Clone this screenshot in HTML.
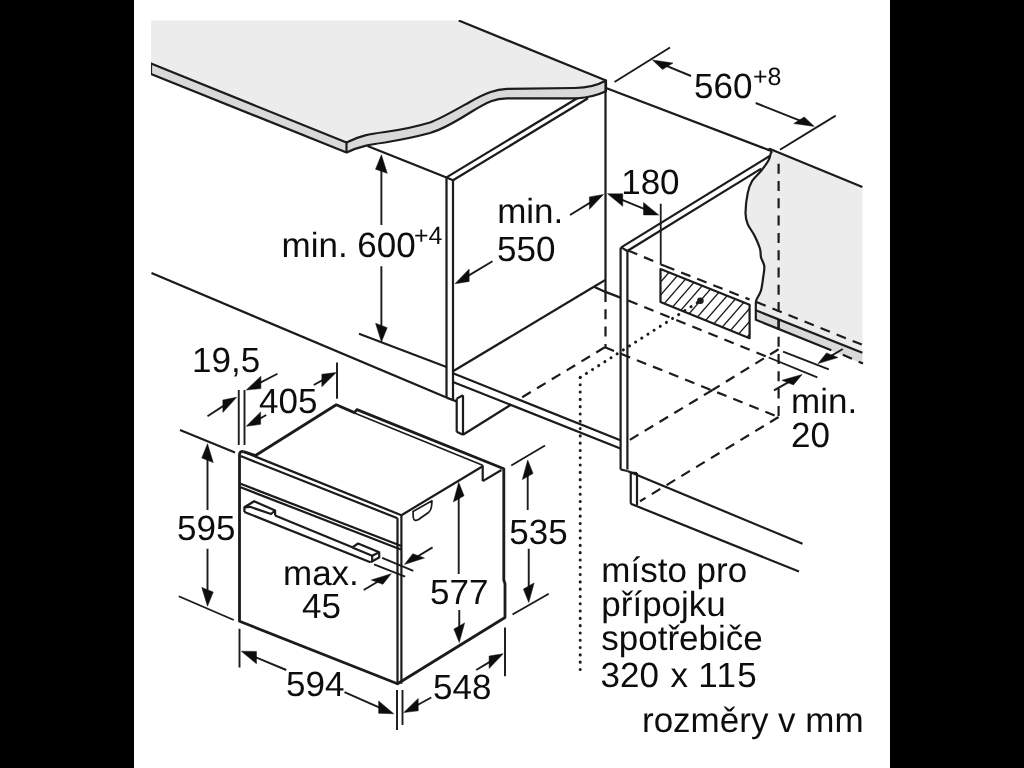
<!DOCTYPE html>
<html><head><meta charset="utf-8">
<style>
html,body{margin:0;padding:0;background:#000;width:1024px;height:768px;overflow:hidden}
svg{display:block}
text{font-family:"Liberation Sans",sans-serif;fill:#111;text-rendering:geometricPrecision}
</style></head><body>
<svg width="1024" height="768" viewBox="0 0 1024 768">
<rect x="0" y="0" width="1024" height="768" fill="#000"/>
<rect x="134" y="0" width="756" height="768" fill="#fff"/>
<filter id="soft" x="0" y="0" width="1" height="1"><feGaussianBlur stdDeviation="0.4"/></filter>
<g filter="url(#soft)">
<g fill="none" stroke="#1a1a1a" stroke-width="2.2" stroke-linejoin="round" stroke-linecap="butt">
<path d="M151,20.5 L458.75,20.5 L606,80.5 C598,85 590,87.8 575,88 L507,88.9 C496,89.5 487,92 469.4,102.2 C452,112 440,119 430,122.5 C415,127 400,130 385,132 C370,134 360,135.5 346.5,142.5 L151,63.5 Z" fill="#ececec" stroke="none"/>
<path d="M151,63.5 L346.5,142.5 C360,135.5 370,134 385,132 C400,130 415,127 430,122.5 C440,119 452,112 469.4,102.2 C487,92 496,89.5 507,88.9 L575,88 C590,87.8 598,85 606,80.5 L606,91.25 C598,95 590,97.5 577,98.3 L507,98.3 C496,98.7 490,100 469.4,113 C452,124 440,130 430,133 C415,137 400,140 385,142.5 C370,144.5 360,146 346.5,152.5 L151,74 Z" fill="#d9d9d9"/>
<line x1="346.5" y1="142.5" x2="346.5" y2="152.5"/>
<line x1="458.75" y1="20.5" x2="606" y2="80.5"/>
<line x1="367.5" y1="146" x2="446.5" y2="177.4"/>
<line x1="446.5" y1="177.4" x2="453" y2="180.3"/>
<line x1="446.5" y1="177.4" x2="577.2" y2="98.3"/>
<line x1="453" y1="180.3" x2="588" y2="98.3"/>
<line x1="446.5" y1="177.4" x2="446.5" y2="397.6"/>
<line x1="453" y1="180.3" x2="453" y2="400.5"/>
<line x1="605.5" y1="80.5" x2="605.5" y2="291.9"/>
<line x1="606" y1="88" x2="770" y2="150.5"/>
<line x1="453" y1="371.25" x2="593.9" y2="286.7"/>
<line x1="593.9" y1="286.7" x2="605.5" y2="279.9"/>
<path d="M593.9,286.7 L605.5,291.9 L620.4,297.6"/>
<line x1="453" y1="373.2" x2="620.4" y2="440.3"/>
<line x1="453" y1="382" x2="620.4" y2="448.5"/>
<line x1="446.5" y1="397.6" x2="456.7" y2="401.5"/>
<line x1="456.7" y1="398.6" x2="456.7" y2="431.8"/>
<line x1="463" y1="395.3" x2="463" y2="434.7"/>
<line x1="456.7" y1="398.6" x2="463" y2="395.3"/>
<line x1="456.7" y1="431.8" x2="463" y2="434.7"/>
<line x1="463" y1="434.7" x2="510.9" y2="404.7"/>
<line x1="151.5" y1="273" x2="446.5" y2="397.6"/>
<line x1="621.2" y1="247.4" x2="770" y2="155.8"/>
<line x1="627.3" y1="251" x2="761.2" y2="168.6"/>
<line x1="621.2" y1="247.4" x2="627.3" y2="251"/>
<line x1="620.6" y1="247.4" x2="620.6" y2="469.5"/>
<line x1="627.4" y1="251" x2="627.4" y2="469.5"/>
<line x1="620.6" y1="469.5" x2="627.4" y2="471"/>
<line x1="630.75" y1="472.5" x2="630.75" y2="503.75"/>
<line x1="637" y1="473" x2="637" y2="505"/>
<line x1="630.75" y1="472.5" x2="637" y2="473"/>
<line x1="627.4" y1="471" x2="802.5" y2="543.75"/>
<line x1="630.75" y1="503.75" x2="799" y2="571.6"/>
<path d="M770,149 L862.4,187 L862.4,363.6 L755.8,319.8 L755.8,303 C755.93,302.4 755.73,301.48 756.6,299.4 C757.47,297.32 759.9,294.2 761,290.5 C762.1,286.8 762.65,281.25 763.2,277.2 C763.75,273.15 764.67,269.52 764.3,266.2 C763.93,262.88 761.73,260.25 761,257.3 C760.27,254.35 761.02,252.18 759.9,248.5 C758.78,244.82 756.33,239.27 754.3,235.2 C752.27,231.13 749.17,227.8 747.7,224.1 C746.23,220.4 745.5,218.17 745.5,213 C745.5,207.83 746.6,198.43 747.7,193.1 C748.8,187.77 749.88,184.68 752.1,181 C754.32,177.32 758.23,174.52 761,171 C763.77,167.48 767.05,162.98 768.7,159.9 C770.35,156.82 770.53,153.73 770.9,152.5 Z" fill="#ececec" stroke="none"/>
<path d="M755.8,310.3 L862.4,352.8 L862.4,363.6 L755.8,319.8 Z" fill="#d9d9d9" stroke="none"/>
<line x1="770" y1="149" x2="862.4" y2="187"/>
<path d="M770.9,152.5 C770.53,153.73 770.35,156.82 768.7,159.9 C767.05,162.98 763.77,167.48 761,171 C758.23,174.52 754.32,177.32 752.1,181 C749.88,184.68 748.8,187.77 747.7,193.1 C746.6,198.43 745.5,207.83 745.5,213 C745.5,218.17 746.23,220.4 747.7,224.1 C749.17,227.8 752.27,231.13 754.3,235.2 C756.33,239.27 758.78,244.82 759.9,248.5 C761.02,252.18 760.27,254.35 761,257.3 C761.73,260.25 763.93,262.88 764.3,266.2 C764.67,269.52 763.75,273.15 763.2,277.2 C762.65,281.25 762.1,286.8 761,290.5 C759.9,294.2 757.47,297.32 756.6,299.4 C755.73,301.48 755.93,302.4 755.8,303 L755.8,320.5" fill="none"/>
<line x1="755.8" y1="310.3" x2="862.4" y2="352.8"/>
<line x1="755.8" y1="319.8" x2="831.3" y2="350.3"/>
<line x1="778.6" y1="319" x2="778.6" y2="330"/>
<path d="M767.5,150.5 L769.8,148.9 L772,153"/>
<clipPath id="hc"><path d="M660.5,269.1 L749.6,304.8 L749.6,338.2 L660.5,301.9 Z"/></clipPath>
<g clip-path="url(#hc)" stroke-width="1.3">
<line x1="593.2" y1="346.7" x2="673.2" y2="254.7"/>
<line x1="604.4" y1="346.7" x2="684.4" y2="254.7"/>
<line x1="615.6" y1="346.7" x2="695.6" y2="254.7"/>
<line x1="626.8" y1="346.7" x2="706.8" y2="254.7"/>
<line x1="638" y1="346.7" x2="718" y2="254.7"/>
<line x1="649.2" y1="346.7" x2="729.2" y2="254.7"/>
<line x1="660.4" y1="346.7" x2="740.4" y2="254.7"/>
<line x1="671.6" y1="346.7" x2="751.6" y2="254.7"/>
<line x1="682.8" y1="346.7" x2="762.8" y2="254.7"/>
<line x1="694" y1="346.7" x2="774" y2="254.7"/>
<line x1="705.2" y1="346.7" x2="785.2" y2="254.7"/>
<line x1="716.4" y1="346.7" x2="796.4" y2="254.7"/>
<line x1="727.6" y1="346.7" x2="807.6" y2="254.7"/>
<line x1="738.8" y1="346.7" x2="818.8" y2="254.7"/>
</g>
<path d="M660.5,269.1 L749.6,304.8 L749.6,338.2 L660.5,301.9 Z" stroke-width="2.2"/>
<circle cx="700.4" cy="300.7" r="3.3" fill="#1a1a1a" stroke="none"/>
<line x1="660.75" y1="203.75" x2="660.75" y2="264.4" stroke-width="1.8"/>
<line x1="660.75" y1="264.4" x2="665" y2="266.1"/>
<path d="M243.5,451.6 L255.5,455.5 L336.3,404.8 L354.4,412.6 L356.9,409.6 L503.8,468.8 L503.8,580 L505,583.75 L505,617.5 L397.5,683.75 L239.5,621.25 L239.5,455" stroke-width="2.8"/>
<path d="M239.5,455 Q239.5,451 243.5,451.6" fill="none" stroke-width="2.8"/>
<line x1="354.4" y1="413" x2="482.7" y2="465.3" stroke-width="1.6"/>
<line x1="482.7" y1="465.3" x2="482.7" y2="481.1"/>
<line x1="482.7" y1="481.1" x2="501.5" y2="470"/>
<line x1="401.4" y1="515.2" x2="482.7" y2="466.2"/>
<line x1="243.5" y1="451.8" x2="401.4" y2="515.2" stroke-width="2.2"/>
<line x1="240.6" y1="456.1" x2="397.5" y2="518.2"/>
<line x1="240.6" y1="483.8" x2="397.5" y2="544.5"/>
<line x1="240.6" y1="487.3" x2="397.5" y2="548.2"/>
<line x1="397.5" y1="518.2" x2="397.5" y2="683.75"/>
<line x1="401.4" y1="515.2" x2="401.4" y2="683.75"/>
<line x1="397.5" y1="544.5" x2="401.4" y2="546"/>
<line x1="397.5" y1="548.2" x2="401.4" y2="549.5"/>
<path d="M244.4,512 L244.4,507.3 L254.1,501.2 L275.1,510.5 L275.1,515.5"/>
<path d="M244.4,507.3 L250,506.8 L271,514 L275.1,510.5"/>
<line x1="244.4" y1="512" x2="370.4" y2="562.2"/>
<line x1="275.1" y1="515.5" x2="352.3" y2="547.3"/>
<path d="M352.3,547.3 L358.1,543.5 L379.2,552.3 L379.2,557.5 L370.4,562.2"/>
<path d="M352.3,547.6 L372.2,555.8 L379.2,552.3"/>
<line x1="372.2" y1="555.8" x2="372.2" y2="561.9"/>
<path d="M413,511.5 L432,500.8 L431.5,506.5 Q431,510.5 428.5,512.5 L418.5,519.5 Q413.8,522 413.3,517.5 Z" fill="none" stroke-width="1.7"/>
</g>
<g fill="none" stroke="#1a1a1a" stroke-width="2.2" stroke-dasharray="10,7.3">
<line x1="605.5" y1="292" x2="605.5" y2="347.3"/>
<line x1="628" y1="250.5" x2="660.5" y2="264"/>
<line x1="665" y1="266.1" x2="749.6" y2="299.5"/>
<line x1="756.4" y1="302.1" x2="861.8" y2="344.6"/>
<line x1="628.2" y1="300.5" x2="768.7" y2="357.5"/>
<line x1="604.8" y1="347.3" x2="778.6" y2="417"/>
<line x1="604.8" y1="347.3" x2="521.9" y2="397.4"/>
<line x1="778.6" y1="349.3" x2="712.5" y2="390"/>
<line x1="712.5" y1="390" x2="627.6" y2="441.2"/>
<line x1="778.6" y1="163.7" x2="778.6" y2="417"/>
<line x1="778.6" y1="417" x2="640" y2="501.25"/>
<line x1="842.8" y1="354.7" x2="863" y2="363.6"/>
</g>
<g fill="none" stroke="#1a1a1a" stroke-width="3" stroke-dasharray="0.1,7.2" stroke-linecap="round">
<line x1="580.2" y1="377.4" x2="580.2" y2="676"/>
<line x1="580.2" y1="377.4" x2="700.4" y2="300.7"/>
</g>
<g fill="none" stroke="#1a1a1a" stroke-width="1.8">
<line x1="768.7" y1="357.5" x2="817.3" y2="377.4"/>
<line x1="783.1" y1="351.6" x2="828.8" y2="369.3"/>
</g>
<g fill="none" stroke="#1a1a1a" stroke-width="1.9">
<line x1="381.4" y1="164.7" x2="381.4" y2="225" stroke-width="1.9"/>
<path d="M381.4,154.8 L387.25,173.35 L375.55,169.25 Z" fill="#111" stroke="#111" stroke-width="0.5"/>
<line x1="381.4" y1="332.1" x2="381.4" y2="266.25" stroke-width="1.9"/>
<path d="M381.4,342 L387.2,327.7 L375.6,323.3 Z" fill="#111" stroke="#111" stroke-width="0.5"/>
<line x1="359" y1="333.75" x2="446.5" y2="367"/>
<line x1="463.49" y1="278.66" x2="492.5" y2="261.25" stroke-width="1.9"/>
<path d="M455,283.75 L469.15,281.46 L469.15,269.06 Z" fill="#111" stroke="#111" stroke-width="0.5"/>
<line x1="595.06" y1="199.67" x2="570" y2="215" stroke-width="1.9"/>
<path d="M603.5,194.5 L589.43,209.31 L589.43,196.91 Z" fill="#111" stroke="#111" stroke-width="0.5"/>
<line x1="616.65" y1="197.54" x2="649.6" y2="211.21" stroke-width="1.9"/>
<path d="M607.5,193.75 L622.74,206.27 L622.74,193.87 Z" fill="#111" stroke="#111" stroke-width="0.5"/>
<path d="M658.75,215 L643.51,214.88 L643.51,202.48 Z" fill="#111" stroke="#111" stroke-width="0.5"/>
<line x1="614.5" y1="82" x2="670" y2="47.5"/>
<line x1="661.64" y1="63.8" x2="691" y2="76" stroke-width="1.9"/>
<path d="M652.5,60 L673.01,63.07 L662.47,69.6 Z" fill="#111" stroke="#111" stroke-width="0.5"/>
<line x1="805.11" y1="122.73" x2="755.7" y2="103" stroke-width="1.9"/>
<path d="M814.3,126.4 L804.25,117.01 L793.71,123.55 Z" fill="#111" stroke="#111" stroke-width="0.5"/>
<line x1="780" y1="149.8" x2="835.7" y2="115.6"/>
<line x1="826.53" y1="358.58" x2="842.8" y2="349" stroke-width="1.9"/>
<path d="M818,363.6 L837.98,357.53 L826.46,352.93 Z" fill="#111" stroke="#111" stroke-width="0.5"/>
<line x1="793.47" y1="379.35" x2="774" y2="390.3" stroke-width="1.9"/>
<path d="M802.1,374.5 L793.47,384.89 L781.96,380.28 Z" fill="#111" stroke="#111" stroke-width="0.5"/>
<line x1="238.75" y1="390" x2="238.75" y2="445"/>
<line x1="244.5" y1="390" x2="244.5" y2="445"/>
<line x1="228.41" y1="402.61" x2="207.5" y2="416.25" stroke-width="1.9"/>
<path d="M236.7,397.2 L222.88,412.42 L222.88,400.02 Z" fill="#111" stroke="#111" stroke-width="0.5"/>
<line x1="255.03" y1="385.43" x2="277.5" y2="373.75" stroke-width="1.9"/>
<path d="M246.25,390 L260.89,388.59 L260.89,376.19 Z" fill="#111" stroke="#111" stroke-width="0.5"/>
<line x1="254.88" y1="421.4" x2="266.25" y2="415" stroke-width="1.9"/>
<path d="M246.25,426.25 L260.63,424.36 L260.63,411.96 Z" fill="#111" stroke="#111" stroke-width="0.5"/>
<line x1="327.6" y1="377.31" x2="313.75" y2="385" stroke-width="1.9"/>
<path d="M336.25,372.5 L321.83,386.71 L321.83,374.31 Z" fill="#111" stroke="#111" stroke-width="0.5"/>
<line x1="337" y1="362.5" x2="337" y2="398.75"/>
<line x1="180" y1="430" x2="235" y2="452.5"/>
<line x1="207.5" y1="453.65" x2="207.5" y2="510" stroke-width="1.9"/>
<path d="M207.5,443.75 L213.24,462.6 L201.76,457.9 Z" fill="#111" stroke="#111" stroke-width="0.5"/>
<line x1="207.5" y1="596.35" x2="207.5" y2="548.75" stroke-width="1.9"/>
<path d="M207.5,606.25 L213.24,592.1 L201.76,587.4 Z" fill="#111" stroke="#111" stroke-width="0.5"/>
<line x1="178.75" y1="596.25" x2="233.75" y2="620"/>
<line x1="239.5" y1="628.75" x2="239.5" y2="667.5"/>
<line x1="250.39" y1="655.06" x2="286.25" y2="670" stroke-width="1.9"/>
<path d="M241.25,651.25 L256.48,663.8 L256.48,651.4 Z" fill="#111" stroke="#111" stroke-width="0.5"/>
<line x1="384.68" y1="709.78" x2="344.5" y2="692.2" stroke-width="1.9"/>
<path d="M393.75,713.75 L378.63,713.34 L378.63,700.94 Z" fill="#111" stroke="#111" stroke-width="0.5"/>
<line x1="397" y1="690" x2="397" y2="730"/>
<line x1="402.5" y1="690" x2="402.5" y2="725"/>
<line x1="412.44" y1="707.76" x2="431.25" y2="697.5" stroke-width="1.9"/>
<path d="M403.75,712.5 L418.24,710.8 L418.24,698.4 Z" fill="#111" stroke="#111" stroke-width="0.5"/>
<line x1="494.77" y1="658.86" x2="476.25" y2="670" stroke-width="1.9"/>
<path d="M503.25,653.75 L489.11,668.46 L489.11,656.06 Z" fill="#111" stroke="#111" stroke-width="0.5"/>
<line x1="505" y1="627.5" x2="505" y2="676.25"/>
<line x1="511.25" y1="465.5" x2="545" y2="445.5"/>
<line x1="527.7" y1="469.9" x2="527.7" y2="510" stroke-width="1.9"/>
<path d="M527.7,460 L533.06,473.39 L522.34,479.61 Z" fill="#111" stroke="#111" stroke-width="0.5"/>
<line x1="528.75" y1="592.6" x2="528.75" y2="548.75" stroke-width="1.9"/>
<path d="M528.75,602.5 L534.11,582.89 L523.39,589.11 Z" fill="#111" stroke="#111" stroke-width="0.5"/>
<line x1="512.5" y1="614.5" x2="548.75" y2="593.75"/>
<line x1="458.7" y1="492.2" x2="458.7" y2="574" stroke-width="1.9"/>
<path d="M458.7,482.3 L464.06,495.69 L453.34,501.91 Z" fill="#111" stroke="#111" stroke-width="0.5"/>
<line x1="459.25" y1="632.6" x2="459.25" y2="610" stroke-width="1.9"/>
<path d="M459.25,642.5 L464.61,622.89 L453.89,629.11 Z" fill="#111" stroke="#111" stroke-width="0.5"/>
<line x1="382.2" y1="557.9" x2="413.3" y2="570.8"/>
<line x1="374.1" y1="564.4" x2="405.1" y2="576.7"/>
<line x1="412.97" y1="559.28" x2="432.6" y2="547.4" stroke-width="1.9"/>
<path d="M404.5,564.4 L424.43,558.01 L412.8,553.71 Z" fill="#111" stroke="#111" stroke-width="0.5"/>
<line x1="382.73" y1="578.79" x2="363.75" y2="590" stroke-width="1.9"/>
<path d="M391.25,573.75 L382.86,584.3 L371.23,579.99 Z" fill="#111" stroke="#111" stroke-width="0.5"/>
</g>
<g>
<text x="281.5" y="256.75" font-size="35">min. 600</text>
<text x="414" y="244" font-size="25">+4</text>
<text x="497.2" y="222.5" font-size="35">min.</text>
<text x="497" y="261" font-size="35">550</text>
<text x="621.2" y="193.75" font-size="35">180</text>
<text x="694" y="97.5" font-size="35">560</text>
<text x="753" y="85" font-size="25">+8</text>
<text x="791" y="413" font-size="35">min.</text>
<text x="791" y="447" font-size="35">20</text>
<text x="192" y="372.2" font-size="35">19,5</text>
<text x="259" y="412.5" font-size="35">405</text>
<text x="177" y="540" font-size="35">595</text>
<text x="283" y="585" font-size="35">max.</text>
<text x="302" y="617.5" font-size="35">45</text>
<text x="509.3" y="543.75" font-size="35">535</text>
<text x="430" y="603.75" font-size="35">577</text>
<text x="286" y="696" font-size="35">594</text>
<text x="433" y="698.75" font-size="35">548</text>
<text x="601.3" y="581.5" font-size="35">místo pro</text>
<text x="601.3" y="615.5" font-size="35">přípojku</text>
<text x="601.3" y="650.3" font-size="35">spotřebiče</text>
<text x="600.5" y="686.5" font-size="35">320</text>
<text x="670.4" y="686.5" font-size="35">x</text>
<text x="698.3" y="686.5" font-size="35" letter-spacing="1.3">115</text>
<text x="642" y="731.5" font-size="35">rozměry v mm</text>
</g>
</g>
</svg>
</body></html>
